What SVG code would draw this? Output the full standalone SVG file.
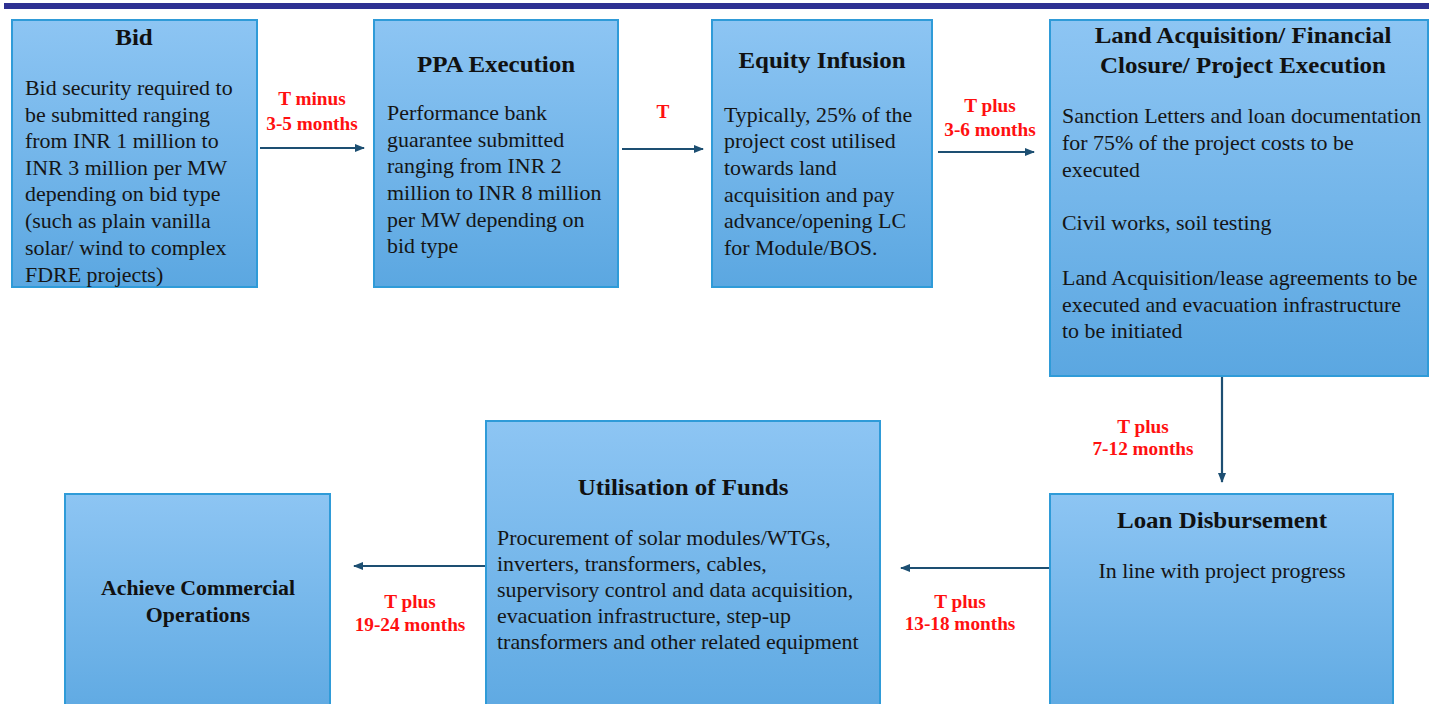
<svg xmlns="http://www.w3.org/2000/svg" width="1429" height="704" viewBox="0 0 1429 704">
<defs>
<linearGradient id="boxfill" x1="0" y1="0" x2="0" y2="1">
<stop offset="0" stop-color="#8dc5f3"/>
<stop offset="1" stop-color="#5ba7e1"/>
</linearGradient>
<marker id="ah" viewBox="0 0 10 10" refX="9" refY="5" markerWidth="10" markerHeight="10" markerUnits="userSpaceOnUse" orient="auto">
<path d="M0,1 L10,5 L0,9 z" fill="#1d4f72"/>
</marker>
<style>
text{font-family:"Liberation Serif","Times New Roman",serif;transform-box:fill-box}
.box{fill:url(#boxfill);stroke:#2f9bd8;stroke-width:2}
.title{font-weight:bold;font-size:24px;fill:#111;text-anchor:middle;transform-origin:50% 0;transform:scaleX(1.04)}
.body{font-size:20.5px;fill:#151515;transform-origin:0 0;transform:scaleX(1.07)}
.bodyc{font-size:20.5px;fill:#151515;text-anchor:middle;transform-origin:50% 0;transform:scaleX(1.07)}
.lbl{font-weight:bold;font-size:18px;fill:#ff1010;text-anchor:middle;transform-origin:50% 0;transform:scaleX(1.07)}
.conn{stroke:#1d4f72;stroke-width:2.2;fill:none;marker-end:url(#ah)}
</style>
</defs>
<rect x="0" y="0" width="1429" height="704" fill="#ffffff"/>
<rect id="topbar" x="4" y="3" width="1425" height="6" fill="#2e3192"/>

<g id="node-bid">
<rect class="box" x="12" y="20" width="245" height="267"/>
<text class="title" x="134" y="45">Bid</text>
<text class="body" x="25" y="95">Bid security  required to</text>
<text class="body" x="25" y="122">be submitted ranging</text>
<text class="body" x="25" y="148">from INR 1 million to</text>
<text class="body" x="25" y="175">INR 3 million per MW</text>
<text class="body" x="25" y="201">depending on bid type</text>
<text class="body" x="25" y="228">(such as plain vanilla</text>
<text class="body" x="25" y="255">solar/ wind to complex</text>
<text class="body" x="25" y="282">FDRE projects)</text>
</g>

<g id="node-ppa">
<rect class="box" x="374" y="20" width="244" height="267"/>
<text class="title" x="496" y="72">PPA Execution</text>
<text class="body" x="387" y="120">Performance  bank</text>
<text class="body" x="387" y="147">guarantee  submitted</text>
<text class="body" x="387" y="173">ranging   from INR  2</text>
<text class="body" x="387" y="200">million to INR 8 million</text>
<text class="body" x="387" y="227">per MW depending  on</text>
<text class="body" x="387" y="253">bid type</text>
</g>

<g id="node-equity">
<rect class="box" x="712" y="20" width="220" height="267"/>
<text class="title" x="822" y="68">Equity Infusion</text>
<text class="body" x="724" y="122">Typically, 25% of the</text>
<text class="body" x="724" y="148">project cost utilised</text>
<text class="body" x="724" y="175">towards land</text>
<text class="body" x="724" y="202">acquisition and pay</text>
<text class="body" x="724" y="228">advance/opening LC</text>
<text class="body" x="724" y="255">for Module/BOS.</text>
</g>

<g id="node-land">
<rect class="box" x="1050" y="20" width="378" height="356"/>
<text class="title" x="1243" y="43">Land Acquisition/ Financial</text>
<text class="title" x="1243" y="73">Closure/ Project Execution</text>
<text class="body" x="1062" y="123">Sanction Letters and loan documentation</text>
<text class="body" x="1062" y="150">for 75% of the project costs to be</text>
<text class="body" x="1062" y="177">executed</text>
<text class="body" x="1062" y="230">Civil works, soil testing</text>
<text class="body" x="1062" y="285">Land Acquisition/lease agreements to be</text>
<text class="body" x="1062" y="312">executed and evacuation infrastructure</text>
<text class="body" x="1062" y="338">to be initiated</text>
</g>

<g id="node-loan">
<rect class="box" x="1050" y="494" width="343" height="240"/>
<text class="title" x="1222" y="528">Loan Disbursement</text>
<text class="bodyc" x="1222" y="578">In line with project progress</text>
</g>

<g id="node-utilisation">
<rect class="box" x="486" y="421" width="394" height="313"/>
<text class="title" x="683" y="495">Utilisation of Funds</text>
<text class="body" x="497" y="545">Procurement  of solar modules/WTGs,</text>
<text class="body" x="497" y="571">inverters,  transformers,  cables,</text>
<text class="body" x="497" y="597">supervisory  control  and  data  acquisition,</text>
<text class="body" x="497" y="623">evacuation  infrastructure,  step-up</text>
<text class="body" x="497" y="649">transformers  and other related equipment</text>
</g>

<g id="node-achieve">
<rect class="box" x="65" y="494" width="265" height="240"/>
<text class="title" x="198" y="595" style="font-size:21px">Achieve Commercial</text>
<text class="title" x="198" y="622" style="font-size:21px">Operations</text>
</g>

<g id="connectors">
<line class="conn" x1="260" y1="148" x2="364" y2="148"/>
<line class="conn" x1="622" y1="149" x2="703" y2="149"/>
<line class="conn" x1="938" y1="152" x2="1034" y2="152"/>
<line class="conn" x1="1222" y1="377" x2="1222" y2="482"/>
<line class="conn" x1="1049" y1="568" x2="901" y2="568"/>
<line class="conn" x1="485" y1="566" x2="354" y2="566"/>
<g id="connector-labels">
<text class="lbl" x="312" y="105">T minus</text>
<text class="lbl" x="312" y="130">3-5 months</text>
<text class="lbl" x="663" y="118">T</text>
<text class="lbl" x="990" y="112">T plus</text>
<text class="lbl" x="990" y="136">3-6 months</text>
<text class="lbl" x="1143" y="433">T plus</text>
<text class="lbl" x="1143" y="455">7-12 months</text>
<text class="lbl" x="960" y="608">T plus</text>
<text class="lbl" x="960" y="630">13-18 months</text>
<text class="lbl" x="410" y="608">T plus</text>
<text class="lbl" x="410" y="631">19-24 months</text>
</g>
</g>
</svg>
